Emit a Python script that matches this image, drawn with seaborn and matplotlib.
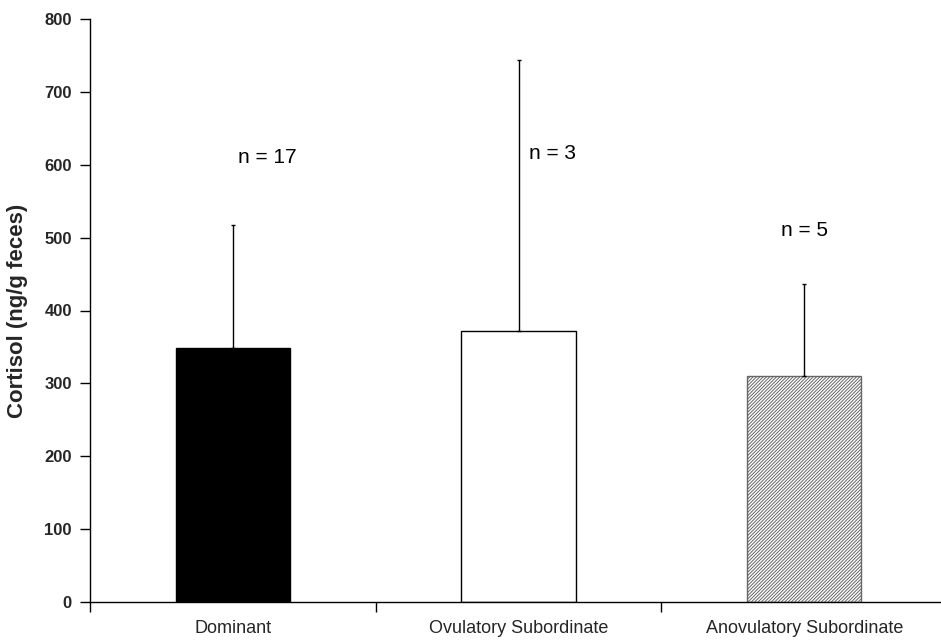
import matplotlib
matplotlib.use("Agg")
import matplotlib.pyplot as plt
import seaborn as sns
import pandas as pd

categories = ["Dominant", "Ovulatory Subordinate", "Anovulatory Subordinate"]
means = [348, 372, 310]
upper_err = [170, 372, 126]
n_labels = ["n = 17", "n = 3", "n = 5"]
n_label_y = [610, 615, 510]
n_label_dx = [0.12, 0.12, 0.0]
yticks = [0, 100, 200, 300, 400, 500, 600, 700, 800]

sns.set_theme(style="white")
plt.rcParams["font.family"] = ["Liberation Sans", "DejaVu Sans"]
plt.rcParams["hatch.linewidth"] = 0.7

df = pd.DataFrame({"group": categories, "cortisol": means})

fig = plt.figure(figsize=(9.41, 6.4), dpi=100)
ax = fig.add_axes([90 / 941, 38 / 640, 850 / 941, 583 / 640])

sns.barplot(data=df, x="group", y="cortisol", hue="group",
            palette=["black", "white", "white"], width=0.4,
            edgecolor="black", linewidth=1.0, legend=False, ax=ax, errorbar=None)

# hatched fill for the third group
hatched = ax.patches[2]
hatched.set_hatch("//////////")
hatched.set_edgecolor("#666666")
hatched.set_linewidth(1.0)

ax.errorbar(range(len(categories)), means, yerr=[[0] * 3, upper_err],
            fmt="none", ecolor="black", elinewidth=1.0, capsize=1.5, capthick=1.0)

for i, (txt, yv, dx) in enumerate(zip(n_labels, n_label_y, n_label_dx)):
    ax.text(i + dx, yv, txt, ha="center", va="center", fontsize=15, color="black")

ax.set_ylim(0, 800)
ax.set_xlim(-0.5, 2.475)
ax.set_yticks(yticks)
ax.set_yticklabels([str(t) for t in yticks], fontsize=12, fontweight="bold")
ax.set_xticks(range(len(categories)))
ax.set_xticklabels(categories, fontsize=13)
ax.set_xticks([-0.5, 0.5, 1.5], minor=True)
ax.tick_params(axis="x", which="major", length=0, pad=13)
ax.tick_params(axis="x", which="minor", length=7, width=1, color="black", direction="out", bottom=True)
ax.tick_params(axis="y", length=7, width=1, color="black", direction="out", left=True, pad=6)
ax.set_xlabel("")
ax.set_ylabel("Cortisol (ng/g feces)", fontsize=16, fontweight="bold", labelpad=12)

for s in ["top", "right"]:
    ax.spines[s].set_visible(False)
for s in ["left", "bottom"]:
    ax.spines[s].set_color("black")
    ax.spines[s].set_linewidth(1.0)

fig.savefig("out.png", dpi=100)
